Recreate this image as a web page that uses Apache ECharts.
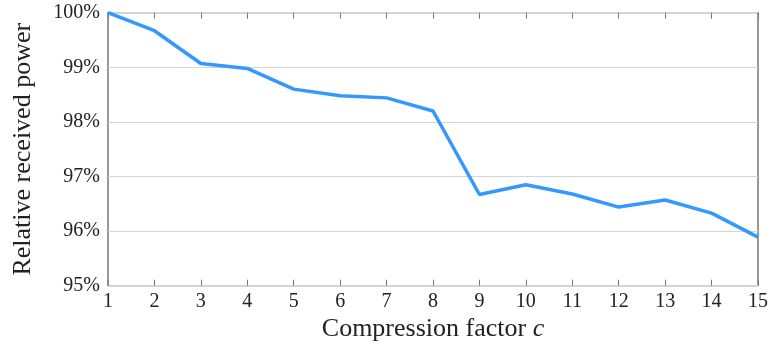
<!DOCTYPE html>
<html><head><meta charset="utf-8">
<script src="https://cdn.jsdelivr.net/npm/echarts@6/dist/echarts.min.js"></script>
<style>html,body{margin:0;padding:0;background:#fff}#c{width:771px;height:349px}</style>
</head><body><div id="c"></div>
<script>
var factors = [1,2,3,4,5,6,7,8,9,10,11,12,13,14,15];
var power = [100,99.67,99.07,98.98,98.60,98.48,98.44,98.20,96.67,96.85,96.68,96.44,96.57,96.33,95.89];
var yTicks = [95,96,97,98,99,100];

var font = '"Liberation Serif", "DejaVu Serif", serif';
var chart = echarts.init(document.getElementById('c'));
chart.setOption({
  animation:false,
  backgroundColor:'#fff',
  grid:{left:108,right:12,top:12.7,bottom:63.3,show:true,borderColor:'#555',borderWidth:1.2,backgroundColor:'transparent'},
  xAxis:[{
    type:'value',min:1,max:15,interval:1,position:'bottom',
    axisLine:{show:false},
    axisTick:{show:true,inside:true,length:6,lineStyle:{color:'#777'}},
    splitLine:{show:false},
    axisLabel:{color:'#222',fontFamily:font,fontSize:20,margin:6},
    name:'{a|Compression factor }{b|c}',nameLocation:'middle',nameGap:26,
    nameTextStyle:{rich:{a:{fontFamily:font,fontSize:26,color:'#222'},b:{fontFamily:font,fontSize:26,fontStyle:'italic',color:'#222'}}}
  },{
    type:'value',min:1,max:15,interval:1,position:'top',
    axisLine:{show:false},
    axisTick:{show:true,inside:true,length:6,lineStyle:{color:'#777'}},
    splitLine:{show:false},axisLabel:{show:false}
  }],
  yAxis:[{
    type:'value',min:yTicks[0],max:yTicks[yTicks.length-1],interval:1,
    axisLine:{show:false},axisTick:{show:false},
    splitLine:{show:true,lineStyle:{color:'#d4d4d4',width:1.2}},
    axisLabel:{color:'#222',fontFamily:font,fontSize:20,margin:8,formatter:function(v){return v+'%';}},
    name:'Relative received power',nameLocation:'middle',nameGap:72,
    nameTextStyle:{fontFamily:font,fontSize:26,color:'#222'}
  }],
  series:[{
    type:'line',xAxisIndex:0,yAxisIndex:0,
    data:factors.map(function(f,i){return [f,power[i]];}),
    showSymbol:false,symbol:'none',
    lineStyle:{color:'#3399ff',width:3.5},
    clip:false
  }]
});
</script></body></html>
